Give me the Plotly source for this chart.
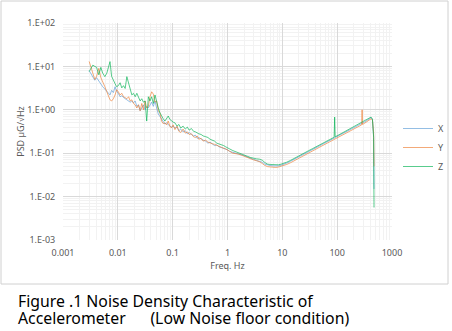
import plotly.graph_objects as go

freq = [0.0030, 0.0032, 0.0035, 0.0038, 0.0041, 0.0045, 0.0049, 0.0053, 0.0058, 0.0063,
        0.0068, 0.0072, 0.0077, 0.0083, 0.0089, 0.0095, 0.0102, 0.011, 0.0118, 0.0127,
        0.0136, 0.0146, 0.0157, 0.0168, 0.018, 0.0193, 0.0207, 0.0222, 0.0238, 0.0255,
        0.0273, 0.0293, 0.0314, 0.0336, 0.036, 0.0386, 0.0414, 0.0444, 0.0476, 0.051,
        0.0547, 0.0586, 0.0628, 0.0673, 0.0722, 0.0774, 0.083, 0.089, 0.095, 0.102,
        0.11, 0.12, 0.13, 0.14, 0.155, 0.17, 0.185, 0.2, 0.22, 0.24,
        0.26, 0.28, 0.3, 0.33, 0.36, 0.4, 0.44, 0.48, 0.53, 0.58,
        0.64, 0.7, 0.77, 0.85, 0.93, 1.0,
        1.1, 1.25, 1.4, 1.6, 1.8, 2.0, 2.3, 2.6, 3.0, 3.4,
        3.8, 4.3, 4.8, 5.4, 6.0, 6.8, 7.6, 8.5, 9.5,
        10.5, 12, 14, 16, 19, 22, 26, 30, 35, 41,
        48, 56, 65, 75, 84, 88, 90, 92, 100, 115,
        130, 150, 175, 200, 230, 260, 280, 285, 290, 320,
        350, 380, 415, 440, 462, 470]

psd_x = [8.0, 7.0, 5.5, 4.8, 5.5, 4.5, 4.0, 3.4, 3.0, 2.6,
         2.4, 2.2, 2.8, 2.5, 3.4, 2.7, 2.4, 2.0, 2.1, 1.9,
         1.8, 1.7, 1.6, 1.5, 1.6, 1.45, 1.6, 1.2, 1.3, 0.95,
         1.1, 1.3, 1.0, 1.2, 1.1, 1.3, 1.5, 1.2, 1.6, 1.1,
         0.8, 0.7, 0.6, 0.52, 0.47, 0.5, 0.45, 0.42, 0.4, 0.42,
         0.38, 0.40, 0.33, 0.36, 0.31, 0.33, 0.28, 0.30, 0.27, 0.25,
         0.26, 0.22, 0.23, 0.21, 0.2, 0.19, 0.17, 0.18, 0.16, 0.15,
         0.155, 0.14, 0.135, 0.13, 0.125, 0.12,
         0.11, 0.105, 0.1, 0.098, 0.092, 0.088, 0.082, 0.076, 0.072, 0.068,
         0.066, 0.062, 0.056, 0.053, 0.052, 0.051, 0.05, 0.051, 0.053,
         0.055, 0.059, 0.065, 0.071, 0.080, 0.088, 0.099, 0.108, 0.12, 0.133,
         0.148, 0.164, 0.182, 0.2, 0.215, 0.222, 0.225, 0.228, 0.24, 0.265,
         0.288, 0.317, 0.35, 0.385, 0.42, 0.46, 0.48, 0.49, 0.495, 0.53,
         0.57, 0.61, 0.66, 0.6, 0.25, 0.015]

psd_y = [13, 10, 6.5, 5.0, 5.9, 9.0, 5.5, 4.5, 3.4, 2.6,
         2.0, 1.7, 1.6, 1.8, 2.2, 2.9, 2.6, 2.2, 2.4, 2.0,
         1.9, 1.8, 2.0, 1.6, 1.7, 1.4, 1.3, 1.1, 1.3, 0.95,
         1.4, 1.0, 1.6, 1.1, 1.2, 2.0, 2.6, 2.3, 1.5, 1.6,
         0.95, 0.85, 0.55, 0.48, 0.5, 0.45, 0.55, 0.42, 0.38, 0.45,
         0.35, 0.42, 0.32, 0.30, 0.36, 0.29, 0.31, 0.27, 0.28, 0.24,
         0.23, 0.25, 0.21, 0.22, 0.19, 0.2, 0.18, 0.17, 0.165, 0.16,
         0.15, 0.145, 0.135, 0.13, 0.125, 0.12,
         0.11, 0.1, 0.098, 0.095, 0.09, 0.085, 0.08, 0.074, 0.07, 0.067,
         0.064, 0.058, 0.052, 0.049, 0.048, 0.048, 0.047, 0.048, 0.05,
         0.051, 0.055, 0.06, 0.066, 0.074, 0.082, 0.092, 0.1, 0.112, 0.124,
         0.138, 0.153, 0.17, 0.187, 0.2, 0.207, 0.21, 0.212, 0.224, 0.247,
         0.268, 0.295, 0.326, 0.358, 0.39, 0.43, 0.45, 1.0, 0.46, 0.495,
         0.53, 0.57, 0.62, 0.58, 0.3, 0.05]

psd_z = [7.6, 9.0, 10.7, 10.0, 9.5, 6.4, 9.5, 7.0, 5.8, 7.0,
         11.0, 12.9, 5.9, 5.0, 4.0, 3.4, 3.6, 4.2, 3.2, 3.6,
         3.1, 5.8, 4.2, 3.0, 2.2, 2.4, 2.0, 2.4, 1.9, 1.6,
         1.8, 1.5, 1.6, 0.55, 2.0, 1.6, 2.0, 1.4, 2.2, 1.5,
         1.1, 0.85, 0.7, 0.62, 0.55, 0.65, 0.72, 0.6, 0.55, 0.52,
         0.5, 0.42, 0.46, 0.38, 0.42, 0.36, 0.4, 0.34, 0.37, 0.32,
         0.31, 0.29, 0.28, 0.27, 0.25, 0.24, 0.23, 0.21, 0.2, 0.19,
         0.17, 0.165, 0.155, 0.15, 0.14, 0.135,
         0.125, 0.115, 0.108, 0.1, 0.095, 0.09, 0.085, 0.08, 0.076, 0.074,
         0.073, 0.069, 0.061, 0.056, 0.055, 0.054, 0.053, 0.054, 0.056,
         0.058, 0.062, 0.068, 0.075, 0.084, 0.093, 0.104, 0.114, 0.126, 0.14,
         0.155, 0.172, 0.19, 0.21, 0.226, 0.233, 0.68, 0.24, 0.252, 0.278,
         0.302, 0.333, 0.368, 0.404, 0.44, 0.48, 0.5, 0.51, 0.52, 0.555,
         0.6, 0.64, 0.68, 0.61, 0.23, 0.0056]

series_names = ["X", "Y", "Z"]
series_values = [psd_x, psd_y, psd_z]
series_colors = ["rgba(91,155,213,0.65)", "rgba(237,125,49,0.65)", "rgba(0,176,80,0.65)"]

y_tickvals = [0.001, 0.01, 0.1, 1, 10, 100]
y_ticktext = ["1.E-03", "1.E-02", "1.E-01", "1.E+00", "1.E+01", "1.E+02"]
x_tickvals = [0.001, 0.01, 0.1, 1, 10, 100, 1000]
x_ticktext = ["0.001", "0.01", "0.1", "1", "10", "100", "1000"]

caption_lines = ["Figure .1 Noise Density Characteristic of",
                 "Accelerometer\u00a0\u00a0\u00a0\u00a0\u00a0\u00a0(Low Noise floor condition)"]

FONT = "Noto Sans"
GRAY = "#595959"

fig = go.Figure()
for name, vals, col in zip(series_names, series_values, series_colors):
    fig.add_trace(go.Scatter(x=freq, y=vals, mode="lines", name=name,
                             line=dict(color=col, width=1)))

W, H = 452, 331
L, R, T, B = 63, 392, 23, 240
pw, ph = R - L, B - T

def px(xp):
    return (xp - L) / pw

def py(yp):
    return (B - yp) / ph

fig.update_layout(
    width=W, height=H,
    margin=dict(l=L, r=W - R, t=T, b=H - B, autoexpand=False),
    paper_bgcolor="white", plot_bgcolor="white",
    font=dict(family=FONT, size=9, color=GRAY),
    showlegend=True,
    legend=dict(x=px(398), y=py(114), xanchor="left", yanchor="top",
                font=dict(size=9, color=GRAY), itemwidth=30,
                bgcolor="rgba(0,0,0,0)"),
    xaxis=dict(type="log", range=[-3, 3], tickvals=x_tickvals, ticktext=x_ticktext,
               showgrid=True, gridcolor="#d9d9d9", gridwidth=1,
               minor=dict(dtick="D1", showgrid=True, gridcolor="#f2f2f2", gridwidth=1),
               showline=False, zeroline=False,
               ticks="outside", ticklen=4, tickcolor="rgba(0,0,0,0)",
               tickfont=dict(size=9, color=GRAY),
               title=dict(text="Freq. Hz", font=dict(size=9, color=GRAY), standoff=4)),
    yaxis=dict(type="log", range=[-3, 2], tickvals=y_tickvals, ticktext=y_ticktext,
               showgrid=True, gridcolor="#d9d9d9", gridwidth=1,
               minor=dict(dtick="D1", showgrid=True, gridcolor="#f2f2f2", gridwidth=1),
               showline=False, zeroline=False,
               ticks="outside", ticklen=5, tickcolor="rgba(0,0,0,0)",
               tickfont=dict(size=9, color=GRAY),
               title=dict(text="PSD µG/√Hz", font=dict(size=9, color=GRAY), standoff=1)),
)

fig.add_shape(type="rect", xref="paper", yref="paper",
              x0=px(1), x1=px(448), y0=py(284), y1=py(1),
              line=dict(color="#d0d0d0", width=1), fillcolor="rgba(0,0,0,0)", layer="below")

for i, line in enumerate(caption_lines):
    fig.add_annotation(xref="paper", yref="paper", x=px(16), y=py(301 + 16.5 * i),
                       xanchor="left", yanchor="middle", align="left", showarrow=False,
                       text=line, font=dict(family=FONT, size=15.8, color="#000000"))

fig.write_html("out.html")
